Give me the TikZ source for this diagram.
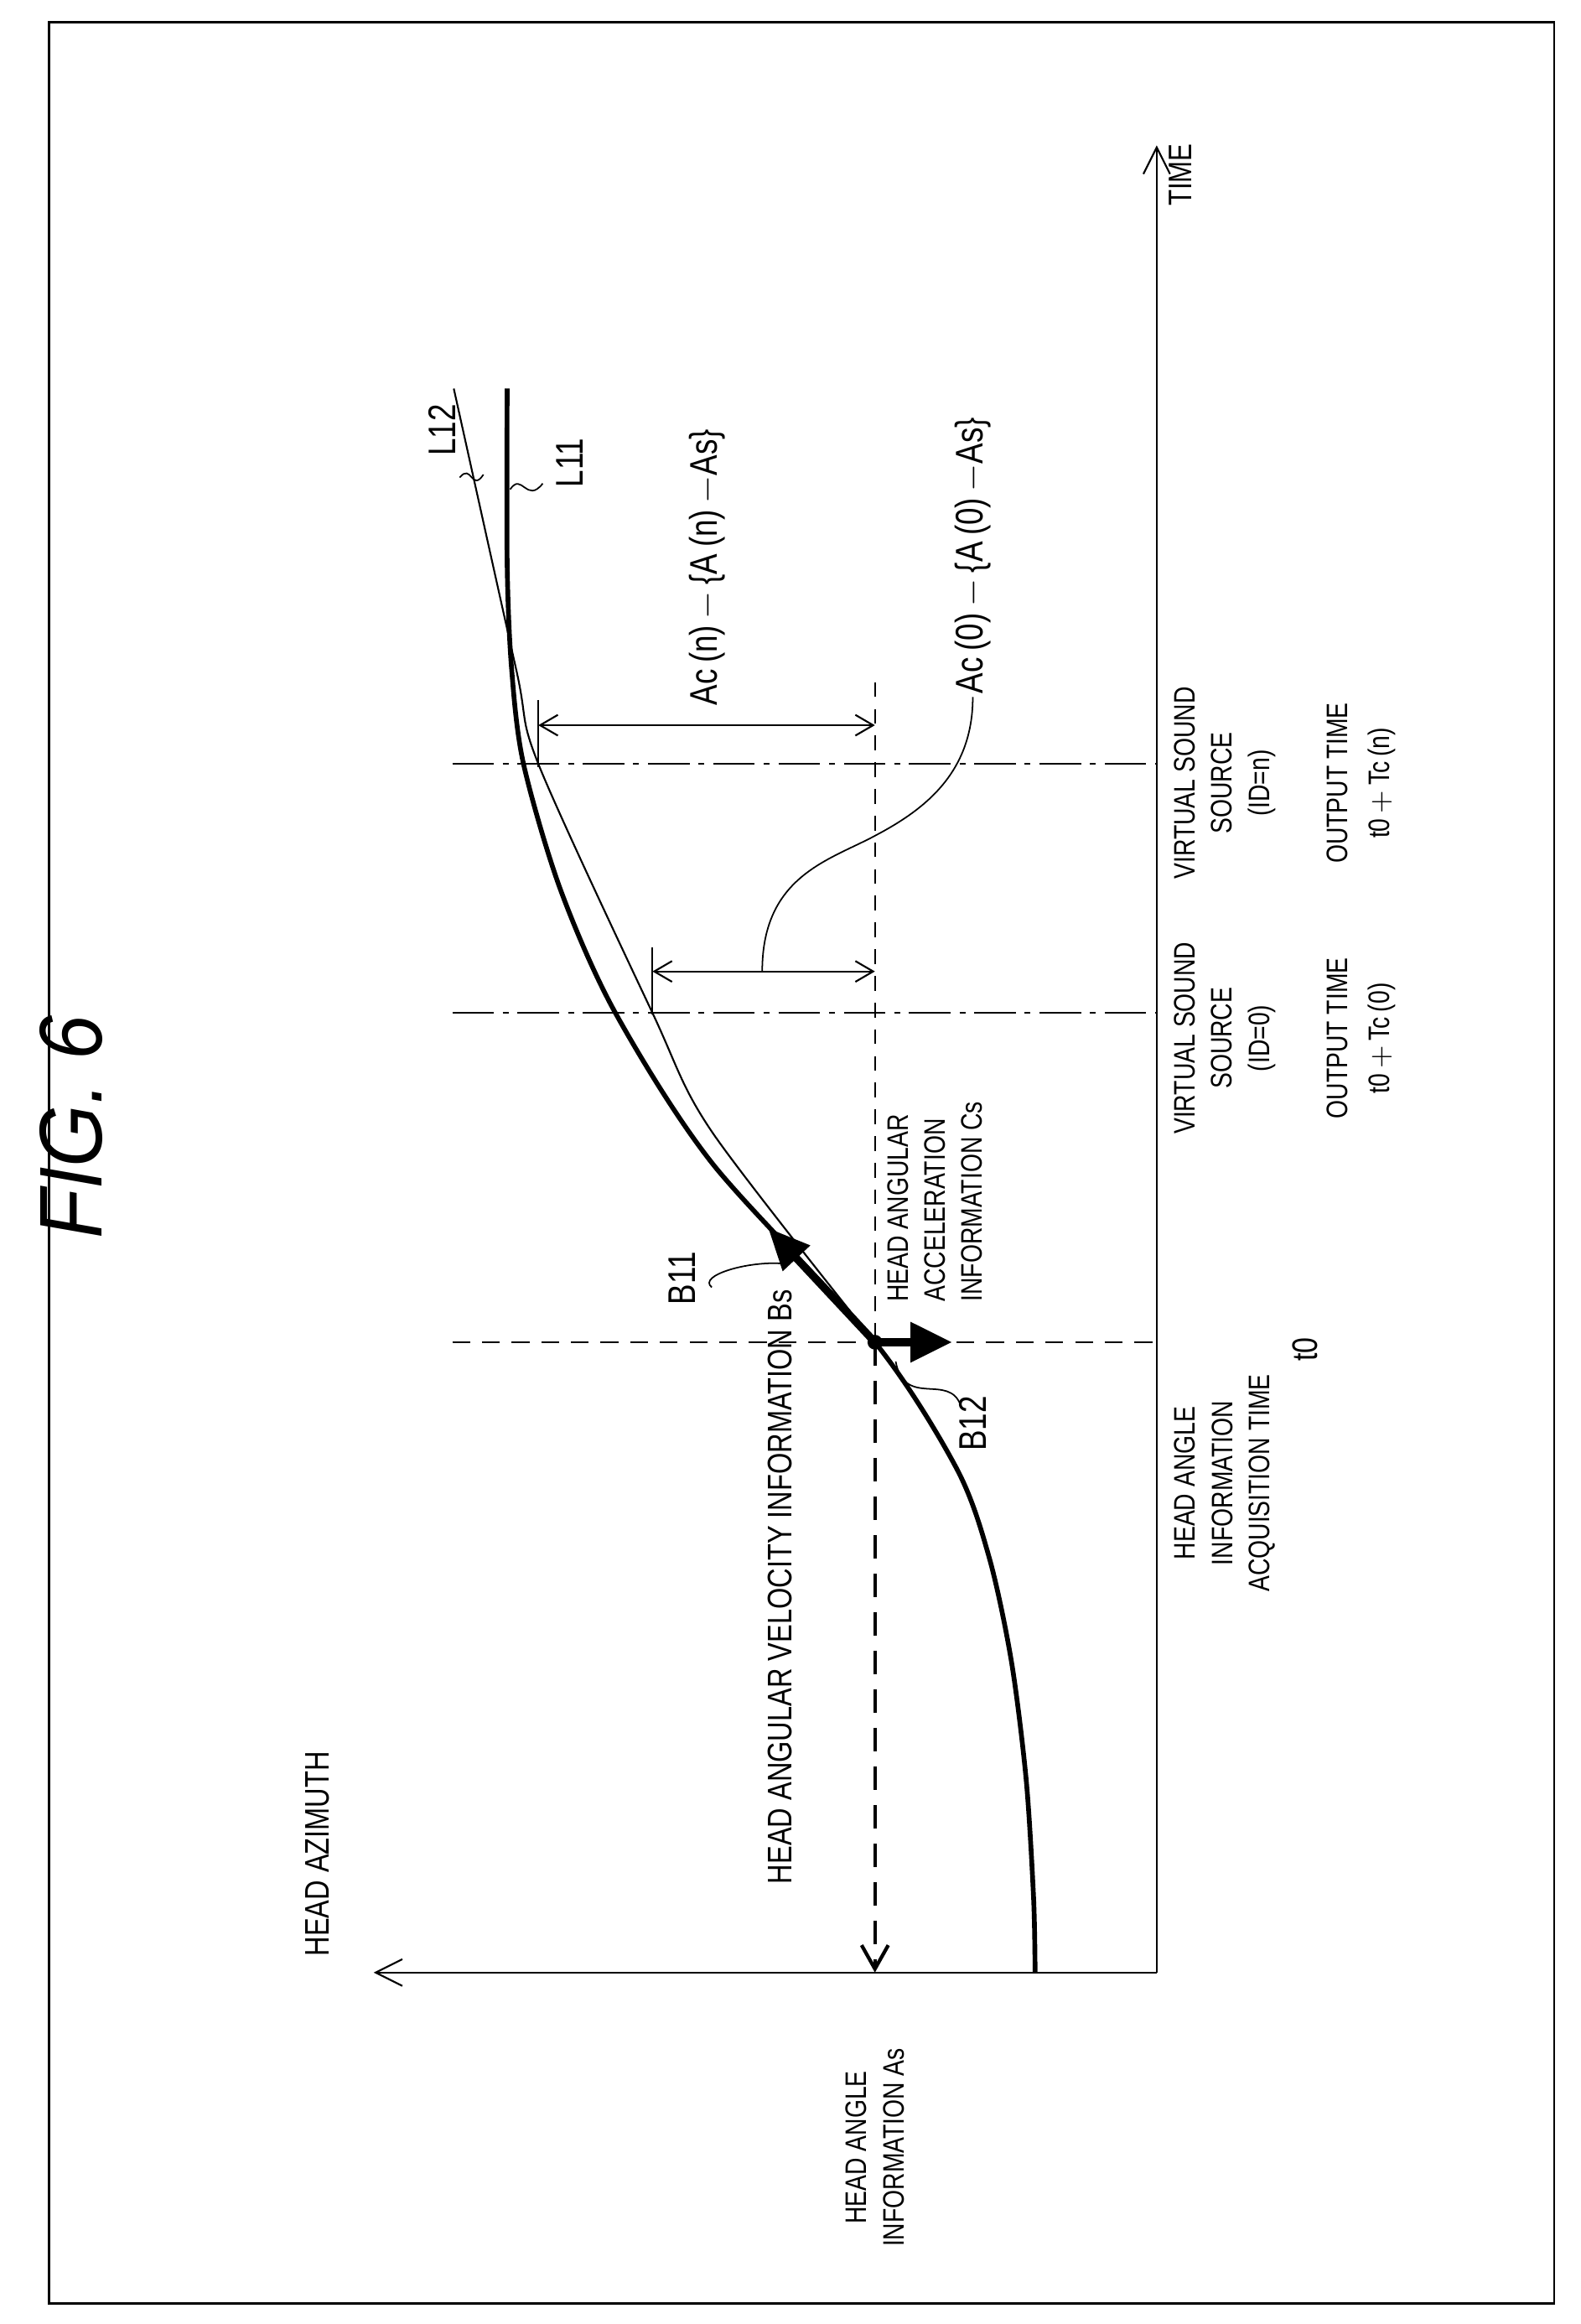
\documentclass[tikz,border=0pt]{standalone}
\usepackage{fontspec}
\setmainfont{Liberation Sans}[FakeStretch=0.8]
\newfontfamily\figfont{Liberation Sans}[FakeStretch=0.9]
\usetikzlibrary{arrows.meta}
\begin{document}
\begin{tikzpicture}[x=0.5pt,y=-0.5pt,
  lbl/.style={rotate=90,font=\fontsize{10}{12.5}\selectfont,align=center,inner sep=1pt},
  lbll/.style={lbl,align=left},
  thin/.style={line width=0.6pt},
  thick2/.style={line width=1.6pt},
  dim/.style={thin,{Straight Barb[length=6pt,width=7pt]}-{Straight Barb[length=6pt,width=7pt]}},
  lead/.style={line width=0.5pt}]
\useasboundingbox (0,0) rectangle (1066,1567);
\draw[line width=0.8pt] (33,15) rectangle (1048,1553);
\node[rotate=90,font=\figfont\itshape\fontsize{30}{30}\selectfont] (fig) at (48,760) {FIG. 6};
% axes
\coordinate (O) at (780,1330);
\coordinate (T) at (780,98);
\coordinate (H) at (252,1330);
\draw[thin,-{Straight Barb[length=9pt,width=9pt]}] (O) -- (T);
\draw[thin,-{Straight Barb[length=9pt,width=9pt]}] (O) -- (H);
\node[lbl,font=\fontsize{11}{12}\selectfont] (time) at (796,118) {TIME};
\node[lbl,font=\fontsize{11.5}{12}\selectfont] (az) at (214,1250) {HEAD AZIMUTH};
% dashed lines
\coordinate (dot) at (590,905);
\draw[thin,dash pattern=on 6pt off 4pt] (305,905) -- (780,905);
\draw[lead,dash pattern=on 5pt off 4pt] (590,460) -- (dot);
\coordinate (As) at (590,1330);
\draw[line width=1.2pt,dash pattern=on 8pt off 5pt,-{Straight Barb[length=8pt,width=9pt]}] (dot) -- (As);
\draw[lead,dash pattern=on 14pt off 3pt on 2pt off 3pt] (305,683) -- (780,683);
\draw[lead,dash pattern=on 14pt off 3pt on 2pt off 3pt] (305,515) -- (780,515);
% curves
\draw[thick2] plot[smooth,tension=0.5] coordinates {(698,1330) (697,1280) (692,1200) (682,1120) (667,1050) (645,990) (590,905) (480,784) (415,683) (378,600) (353,515) (345,451) (342,380) (342,262)};
\draw[thin] plot[smooth,tension=0.5] coordinates {(590,905) (480,763) (440,683) (363,515) (348,451) (306,262)};
\fill (dot) circle (5);
% B11 and B12
\coordinate (b11) at (518,828);
\draw[line width=2.6pt,-{Triangle[length=14pt,width=12pt]}] (dot) -- (b11);
\coordinate (b12) at (642,905);
\draw[line width=2.6pt,-{Triangle[length=14pt,width=13pt]}] (dot) -- (b12);
\node[font=\fontsize{13}{13}\selectfont,rotate=90] (B11) at (460,862) {B11};
\draw[lead] (480,868) .. controls (470,860) and (505,850) .. (528,852);
\node[font=\fontsize{13}{13}\selectfont,rotate=90] (B12) at (656,960) {B12};
\draw[lead] (604,918) .. controls (610,950) and (640,925) .. (648,948);
% dims
\draw[lead] (440,639) -- (440,684);
\draw[dim] (440,655) -- (590,655);
\draw[lead] (363,472) -- (363,517);
\draw[dim] (363,489) -- (590,489);
\node[lbl,anchor=west,font=\fontsize{13}{13}\selectfont] (acn) at (477,478) {Ac\,(n)\,$-$\,\{A\,(n)\,$-$As\}};
\node[lbl,anchor=west,font=\fontsize{13}{13}\selectfont] (ac0) at (656,470) {Ac\,(0)\,$-$\,\{A\,(0)\,$-$As\}};
\draw[lead] (514,655) .. controls (514,590) and (560,580) .. (591,563) .. controls (625,545) and (656,520) .. (ac0.west);
% L labels
\node[font=\fontsize{13}{13}\selectfont,rotate=90] (L12) at (298,290) {L12};
\draw[lead] (310,322) .. controls (318,312) and (318,332) .. (326,320);
\node[font=\fontsize{13}{13}\selectfont,rotate=90] (L11) at (384,312) {L11};
\draw[lead] (344,330) .. controls (352,318) and (355,340) .. (366,326);
% text labels
\node[lbl,font=\fontsize{11.5}{12}\selectfont] (vel) at (526,1070) {HEAD ANGULAR VELOCITY INFORMATION Bs};
\node[lbll,anchor=south west] (acc) at (665,880) {HEAD ANGULAR\\ACCELERATION\\INFORMATION Cs};
\node[lbl] (hai) at (826,1000) {HEAD ANGLE\\INFORMATION\\ACQUISITION TIME};
\node[lbl,font=\fontsize{12}{12}\selectfont] (t0) at (880,910) {t0};
\node[lbl] (vs0) at (826,700) {VIRTUAL SOUND\\SOURCE\\(ID=0)};
\node[lbl,font=\fontsize{10}{14}\selectfont] (ot0) at (918,700) {OUTPUT TIME\\t0$\,+\,$Tc\,(0)};
\node[lbl] (vsn) at (826,528) {VIRTUAL SOUND\\SOURCE\\(ID=n)};
\node[lbl,font=\fontsize{10}{14}\selectfont] (otn) at (918,528) {OUTPUT TIME\\t0$\,+\,$Tc\,(n)};
\node[lbl] (asl) at (590,1448) {HEAD ANGLE\\INFORMATION As};
\end{tikzpicture}
\end{document}
